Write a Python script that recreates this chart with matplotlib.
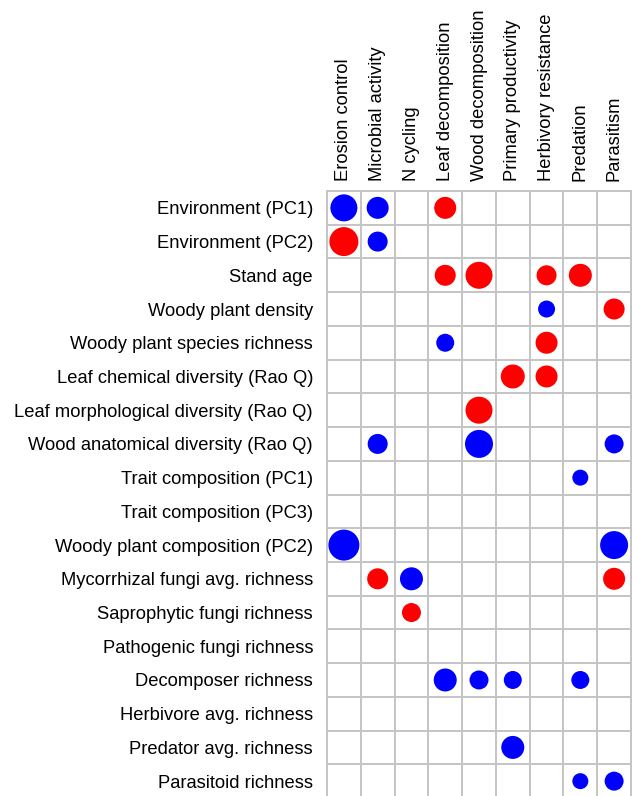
import matplotlib.pyplot as plt
import numpy as np

plt.rcParams['font.family'] = ['Liberation Sans', 'DejaVu Sans']

functions = ["Erosion control", "Microbial activity", "N cycling", "Leaf decomposition",
             "Wood decomposition", "Primary productivity", "Herbivory resistance",
             "Predation", "Parasitism"]

predictors = ["Environment (PC1)", "Environment (PC2)", "Stand age", "Woody plant density",
              "Woody plant species richness", "Leaf chemical diversity (Rao Q)",
              "Leaf morphological diversity (Rao Q)", "Wood anatomical diversity (Rao Q)",
              "Trait composition (PC1)", "Trait composition (PC3)",
              "Woody plant composition (PC2)", "Mycorrhizal fungi avg. richness",
              "Saprophytic fungi richness", "Pathogenic fungi richness",
              "Decomposer richness", "Herbivore avg. richness",
              "Predator avg. richness", "Parasitoid richness"]

# signed effects (positive = red, negative = blue), 0 = no effect
effects = np.array([
    [-0.27, -0.22, 0, 0.22, 0, 0, 0, 0, 0],
    [0.29, -0.20, 0, 0, 0, 0, 0, 0, 0],
    [0, 0, 0, 0.21, 0.27, 0, 0.20, 0.23, 0],
    [0, 0, 0, 0, 0, 0, -0.17, 0, 0.21],
    [0, 0, 0, -0.18, 0, 0, 0.22, 0, 0],
    [0, 0, 0, 0, 0, 0.24, 0.22, 0, 0],
    [0, 0, 0, 0, 0.27, 0, 0, 0, 0],
    [0, -0.20, 0, 0, -0.28, 0, 0, 0, -0.19],
    [0, 0, 0, 0, 0, 0, 0, -0.16, 0],
    [0, 0, 0, 0, 0, 0, 0, 0, 0],
    [-0.31, 0, 0, 0, 0, 0, 0, 0, -0.28],
    [0, 0.21, -0.23, 0, 0, 0, 0, 0, 0.22],
    [0, 0, 0.19, 0, 0, 0, 0, 0, 0],
    [0, 0, 0, 0, 0, 0, 0, 0, 0],
    [0, 0, 0, -0.23, -0.19, -0.18, 0, -0.18, 0],
    [0, 0, 0, 0, 0, 0, 0, 0, 0],
    [0, 0, 0, 0, 0, -0.23, 0, 0, 0],
    [0, 0, 0, 0, 0, 0, 0, -0.16, -0.19],
])

W, H = 633, 796
fig = plt.figure(figsize=(W / 100, H / 100), dpi=100)
ax = fig.add_axes([327 / W, -2 / H, 304 / W, 607 / H])

nrow, ncol = effects.shape
ax.set_xlim(0, ncol)
ax.set_ylim(nrow, 0)

# grid
for i in range(1, ncol):
    ax.axvline(i, color='#c4c4c4', lw=1.4, zorder=1)
for j in range(1, nrow):
    ax.axhline(j, color='#c4c4c4', lw=1.4, zorder=1)
for s in ax.spines.values():
    s.set_color('#c4c4c4')
    s.set_linewidth(1.4)

# circles: diameter in pixels = effect * 100
rr, cc = np.nonzero(effects)
vals = effects[rr, cc]
diam_pt = np.abs(vals) * 100 * 72 / 100
colors = np.where(vals > 0, '#ff0000', '#0000ff')
ax.scatter(cc + 0.5, rr + 0.5, s=diam_pt ** 2, c=colors, linewidths=0, zorder=3)

ax.set_xticks(np.arange(ncol) + 0.5)
ax.set_xticklabels(functions, rotation=90, fontsize=13.2)
ax.xaxis.tick_top()
ax.set_yticks(np.arange(nrow) + 0.5)
ax.set_yticklabels(predictors, fontsize=13.2)
ax.tick_params(length=0, pad=7)
ax.tick_params(axis='y', pad=10)

fig.savefig('out.png', dpi=100)
